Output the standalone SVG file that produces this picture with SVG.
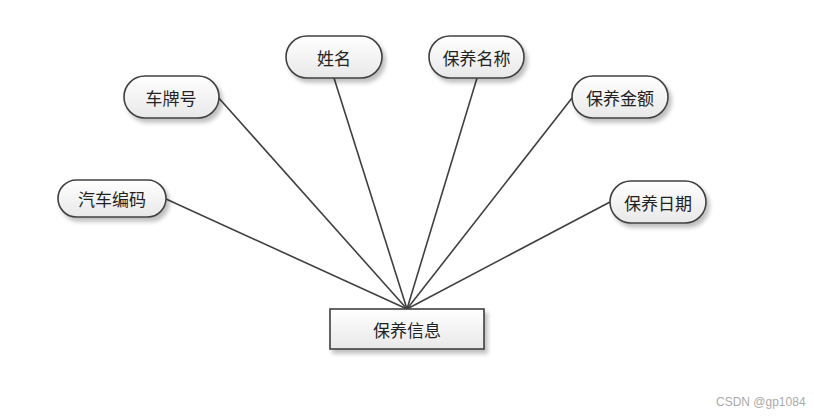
<svg xmlns="http://www.w3.org/2000/svg" width="814" height="418" viewBox="0 0 814 418">
<defs>
<linearGradient id="g" x1="0" y1="0" x2="0" y2="1">
<stop offset="0" stop-color="#ffffff"/>
<stop offset="1" stop-color="#e8e8e8"/>
</linearGradient>
<filter id="sh" x="-20%" y="-20%" width="150%" height="160%">
<feGaussianBlur in="SourceAlpha" stdDeviation="2"/>
<feOffset dx="3" dy="4" result="b"/>
<feComponentTransfer><feFuncA type="linear" slope="0.25"/></feComponentTransfer>
<feMerge><feMergeNode/><feMergeNode in="SourceGraphic"/></feMerge>
</filter>
</defs>
<style>
.n{fill:url(#g);stroke:#404040;stroke-width:1.6;filter:url(#sh)}
.t{font-family:"Noto Sans CJK SC","Noto Sans CJK JP",sans-serif;font-size:17px;fill:#222;text-anchor:middle;dominant-baseline:central}
.c{stroke:#404040;stroke-width:1.6;fill:none}
.w{font-family:"Liberation Sans",Arial,sans-serif;font-size:12px;fill:#aaa}
</style>
<rect width="814" height="418" fill="#fff"/>
<g id="connectors">
<line class="c" x1="166" y1="199" x2="407" y2="309"/>
<line class="c" x1="217" y1="96" x2="407" y2="309"/>
<line class="c" x1="334" y1="78" x2="407" y2="309"/>
<line class="c" x1="477" y1="78" x2="407" y2="309"/>
<line class="c" x1="572" y1="98" x2="407" y2="309"/>
<line class="c" x1="610" y1="202" x2="407" y2="309"/>
</g>
<g id="n1"><rect class="n" x="58" y="180" width="108" height="37" rx="18.5"/><text class="t" x="112" y="198.5">汽车编码</text></g>
<g id="n2"><rect class="n" x="124" y="76" width="95" height="42" rx="21"/><text class="t" x="171" y="97">车牌号</text></g>
<g id="n3"><rect class="n" x="286" y="36" width="96" height="42" rx="21"/><text class="t" x="334" y="57">姓名</text></g>
<g id="n4"><rect class="n" x="429" y="36" width="95" height="42" rx="21"/><text class="t" x="476.5" y="57">保养名称</text></g>
<g id="n5"><rect class="n" x="572" y="76" width="96" height="42" rx="21"/><text class="t" x="620" y="97">保养金额</text></g>
<g id="n6"><rect class="n" x="610" y="181" width="96" height="42" rx="21"/><text class="t" x="658" y="202">保养日期</text></g>
<g id="n7"><rect class="n" x="330" y="309" width="154" height="40" rx="0"/><text class="t" x="407" y="329">保养信息</text></g>
<text class="w" x="716" y="406">CSDN @gp1084</text>
</svg>
